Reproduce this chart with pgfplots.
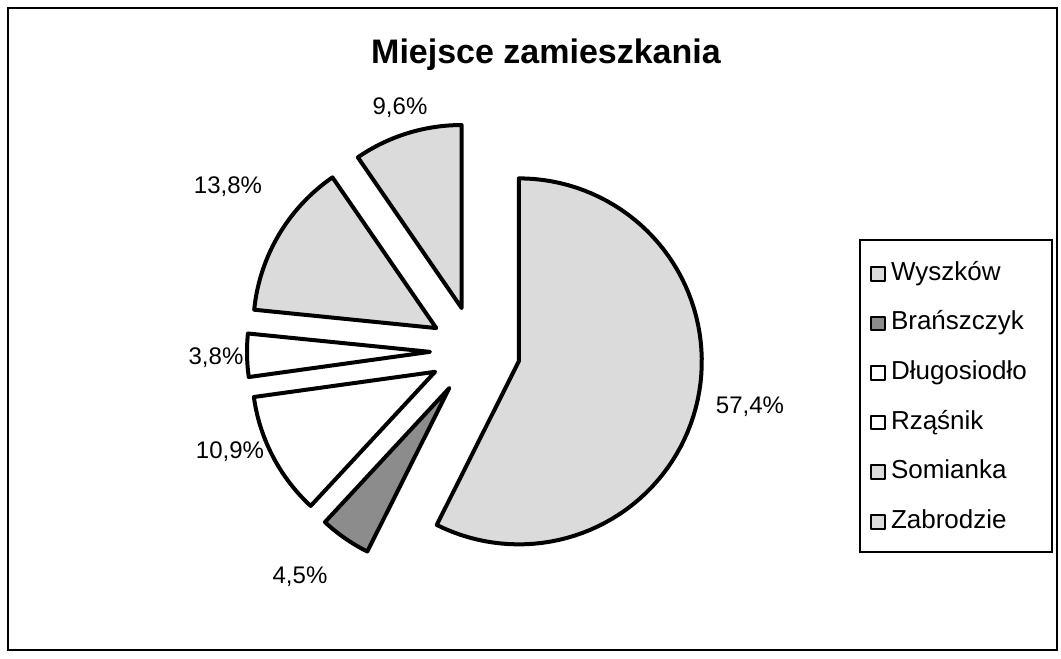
\documentclass[border=0pt]{standalone}
\usepackage{pgfplots}
\pgfplotsset{compat=1.18}
\usepackage{fontspec}
\setmainfont{Liberation Sans}
% data: value (%), fill, name -- pie starts at 90 deg, clockwise
\def\pieCX{475}\def\pieCY{308}\def\pieR{183}\def\pieE{45}
\gdef\angleacc{90}
\newcommand\slice[3]{%
  \pgfmathsetmacro\aS{\angleacc}%
  \pgfmathsetmacro\aE{\angleacc-3.6*#1}%
  \pgfmathsetmacro\aM{(\aS+\aE)/2}%
  \pgfmathsetmacro\cx{\pieCX+\pieE*cos(\aM)}%
  \pgfmathsetmacro\cy{\pieCY+\pieE*sin(\aM)}%
  \edef\tmp{\noexpand\addplot[draw=black, line width=2pt, line join=round, fill=#2, domain=\aE:\aS, samples=80]
    ({\cx+\pieR*cos(x)},{\cy+\pieR*sin(x)}) -- (axis cs:\cx,\cy) -- cycle;}%
  \tmp
  \addlegendentry{#3}%
  \xdef\angleacc{\aE}%
}
\definecolor{lightdot}{gray}{0.86}
\definecolor{darkdot}{gray}{0.55}
\begin{document}
\begin{tikzpicture}
\begin{axis}[
  x=0.5pt, y=0.5pt,
  xmin=0, xmax=1061, ymin=0, ymax=659,
  hide axis, clip=false,
  legend style={draw=none, fill=none, at={(axis cs:864,405)}, anchor=north west,
    font=\fontsize{13}{15}\selectfont,
    nodes={text height=9.5pt, text depth=3pt, inner sep=1.5pt},
    row sep=9.3pt},
  legend cell align=left,
  legend image code/.code={\draw[#1, line width=1pt] (0pt,-3.4pt) rectangle (6.8pt,3.4pt);},
]
\path (axis cs:0,0) rectangle (axis cs:1061,659);
\draw[line width=0.9pt] (axis cs:8,9) rectangle (axis cs:1057,651);
\slice{57.4}{lightdot}{\hspace{1pt}Wyszków}
\slice{4.5}{darkdot}{\hspace{1pt}Brańszczyk}
\slice{10.9}{white}{\hspace{1pt}Długosiodło}
\slice{3.8}{white}{\hspace{1pt}Rząśnik}
\slice{13.8}{lightdot}{\hspace{1pt}Somianka}
\slice{9.6}{lightdot}{\hspace{1pt}Zabrodzie}
\draw[line width=0.9pt] (axis cs:860,107) rectangle (axis cs:1052,419);
\node[font=\bfseries\fontsize{17}{20}\selectfont] at (axis cs:546,604) {Miejsce zamieszkania};
\begin{scope}[every node/.style={font=\fontsize{12}{14}\selectfont}]
\node at (axis cs:750,252) {57,4\%};
\node at (axis cs:300,82) {4,5\%};
\node at (axis cs:230,207) {10,9\%};
\node at (axis cs:216,301) {3,8\%};
\node at (axis cs:228,472) {13,8\%};
\node at (axis cs:400,551) {9,6\%};
\end{scope}
\end{axis}
\end{tikzpicture}
\end{document}
